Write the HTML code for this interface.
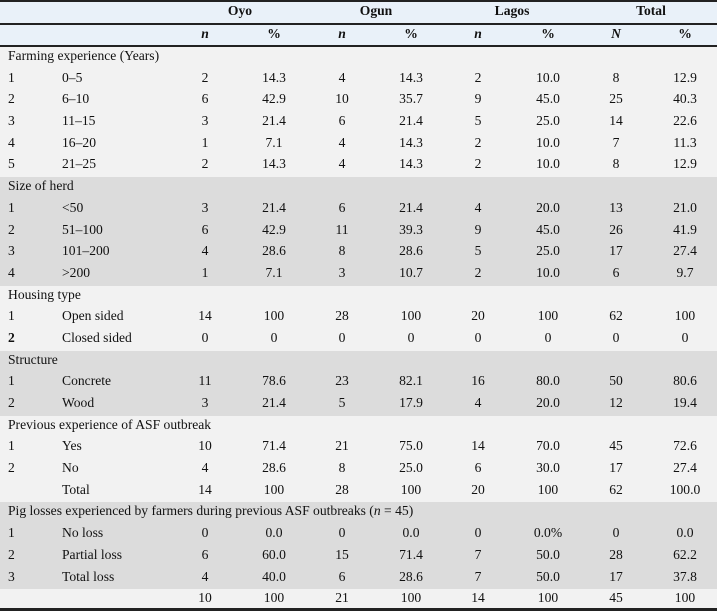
<!DOCTYPE html>
<html><head><meta charset="utf-8"><style>
*{margin:0;padding:0;box-sizing:border-box}
body{width:717px;height:611px;background:#f2f2f2;font-family:"Liberation Serif",serif;font-size:13.6px;color:#111;position:relative;overflow:hidden}
.r{position:relative;height:21.7px;line-height:21.7px}
.r span{position:absolute;top:-2px;white-space:nowrap}
.h span{top:-1px}
.a{left:8px}.b{left:62px}
.c{width:60px;text-align:center}
.g{background:#dcdcdc}.l{background:#f2f2f2}
.h{background:#e9f1f9;height:20.5px;line-height:20.5px;font-weight:bold}
.hi{font-style:italic;font-weight:bold}
.line{height:2px;background:#222}
</style></head><body>
<div class="line" style="height:2px"></div>
<div class="r h"><span class="c" style="left:210px">Oyo</span><span class="c" style="left:346px">Ogun</span><span class="c" style="left:482px">Lagos</span><span class="c" style="left:621px">Total</span></div>
<div class="line" style="height:2px"></div>
<div class="r h"><span class="c hi" style="left:175px">n</span><span class="c" style="left:244px">%</span><span class="c hi" style="left:312px">n</span><span class="c" style="left:381px">%</span><span class="c hi" style="left:448px">n</span><span class="c" style="left:518px">%</span><span class="c hi" style="left:586px">N</span><span class="c" style="left:655px">%</span></div>
<div class="line" style="height:2px"></div>
<div id="body"></div>
<script>
const X=[175,244,312,381,448,518,586,655];
const rows=[
['l','','Farming experience (Years)'],
['l','1','0–5',2,'14.3',4,'14.3',2,'10.0',8,'12.9'],
['l','2','6–10',6,'42.9',10,'35.7',9,'45.0',25,'40.3'],
['l','3','11–15',3,'21.4',6,'21.4',5,'25.0',14,'22.6'],
['l','4','16–20',1,'7.1',4,'14.3',2,'10.0',7,'11.3'],
['l','5','21–25',2,'14.3',4,'14.3',2,'10.0',8,'12.9'],
['g','','Size of herd'],
['g','1','<50',3,'21.4',6,'21.4',4,'20.0',13,'21.0'],
['g','2','51–100',6,'42.9',11,'39.3',9,'45.0',26,'41.9'],
['g','3','101–200',4,'28.6',8,'28.6',5,'25.0',17,'27.4'],
['g','4','>200',1,'7.1',3,'10.7',2,'10.0',6,'9.7'],
['l','','Housing type'],
['l','1','Open sided',14,'100',28,'100',20,'100',62,'100'],
['l','<b>2</b>','Closed sided',0,'0',0,'0',0,'0',0,'0'],
['g','','Structure'],
['g','1','Concrete',11,'78.6',23,'82.1',16,'80.0',50,'80.6'],
['g','2','Wood',3,'21.4',5,'17.9',4,'20.0',12,'19.4'],
['l','','Previous experience of ASF outbreak'],
['l','1','Yes',10,'71.4',21,'75.0',14,'70.0',45,'72.6'],
['l','2','No',4,'28.6',8,'25.0',6,'30.0',17,'27.4'],
['l','','Total',14,'100',28,'100',20,'100',62,'100.0'],
['g','','Pig losses experienced by farmers during previous ASF outbreaks (<i>n</i> = 45)'],
['g','1','No loss',0,'0.0',0,'0.0',0,'0.0%',0,'0.0'],
['g','2','Partial loss',6,'60.0',15,'71.4',7,'50.0',28,'62.2'],
['g','3','Total loss',4,'40.0',6,'28.6',7,'50.0',17,'37.8'],
['l','','',10,'100',21,'100',14,'100',45,'100']];
let h='';
for(const r of rows){
 h+=`<div class="r ${r[0]}">`;
 if(r.length==3){h+=`<span class="a">${r[2]}</span>`;}
 else{h+=`<span class="a">${r[1]}</span><span class="b">${r[2].replace('<','&lt;').replace('>','&gt;')}</span>`;
  for(let i=0;i<8;i++)h+=`<span class="c" style="left:${X[i]}px">${r[3+i]}</span>`;}
 h+='</div>';
}
document.getElementById('body').innerHTML=h;
</script>
<div class="line" style="position:absolute;left:0;top:608px;width:717px;height:3px"></div>
</body></html>
